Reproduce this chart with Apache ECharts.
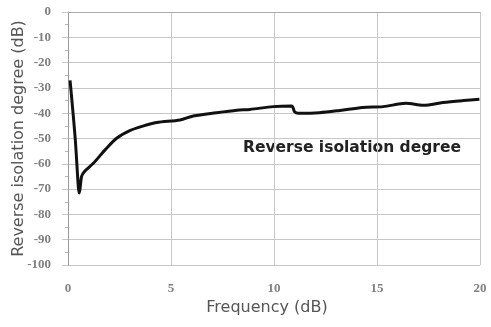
<!DOCTYPE html>
<html><head><meta charset="utf-8">
<script src="https://cdn.jsdelivr.net/npm/echarts@6/dist/echarts.min.js"></script>
<style>html,body{margin:0;padding:0;background:#fff}#c{width:491px;height:327px}</style>
</head><body><div id="c"></div>
<script>
const freq = [0.1, 0.35, 0.5, 0.55, 0.66, 0.8, 1.23, 1.8, 2.36, 3.0, 3.6, 4.3, 5.44, 6.08, 7.2, 8.2, 8.83, 9.97, 10.86, 11.0, 11.18, 12.2, 13.2, 14.3, 15.3, 16.4, 17.25, 18.2, 19.2, 19.97];
const isolation = [-27, -50, -69, -71.5, -65, -63, -59.8, -54.5, -49.9, -46.9, -45.2, -43.7, -42.7, -41.1, -39.8, -38.8, -38.5, -37.4, -37.2, -39.4, -40, -39.8, -38.9, -37.7, -37.4, -36.1, -36.9, -35.8, -35, -34.5];
const seriesLabel = 'Reverse isolation degree';
const xName = 'Frequency (dB)';
const yName = 'Reverse isolation degree (dB)';

const serif = "'Liberation Serif', 'Times New Roman', 'DejaVu Serif', serif";
const chart = echarts.init(document.getElementById('c'));
chart.setOption({
  animation: false,
  grid: {left: 68, right: 11, top: 12, bottom: 62, containLabel: false, outerBoundsMode: 'none'},
  xAxis: {
    type: 'value', min: 0, max: 20, interval: 5,
    name: xName, nameLocation: 'middle', nameGap: 35, nameMoveOverlap: false,
    nameTextStyle: {fontFamily: 'DejaVu Sans', fontSize: 16, color: '#555', letterSpacing: 1.8, padding: [0, 14, 0, 0]},
    axisLine: {lineStyle: {color: '#aaa'}},
    axisTick: {show: false},
    axisLabel: {fontFamily: serif, fontSize: 13, fontWeight: 'bold', color: '#808080', margin: 17},
    splitLine: {show: true, lineStyle: {color: '#c8c8c8', width: 1}}
  },
  yAxis: {
    type: 'value', min: -100, max: 0, interval: 10,
    name: yName, nameLocation: 'middle', nameGap: 41, nameMoveOverlap: false,
    nameTextStyle: {fontFamily: 'DejaVu Sans', fontSize: 16, color: '#555', letterSpacing: 1.0},
    axisLine: {show: true, lineStyle: {color: '#999'}},
    axisTick: {show: true, length: 6, lineStyle: {color: '#c8c8c8'}},
    minorTick: {show: true, splitNumber: 2, length: 3, lineStyle: {color: '#bbb'}},
    axisLabel: {fontFamily: serif, fontSize: 13, fontWeight: 'bold', color: '#808080', margin: 17},
    splitLine: {show: true, lineStyle: {color: '#c8c8c8', width: 1}}
  },
  series: [{
    type: 'line', data: freq.map((f, i) => [f, isolation[i]]),
    showSymbol: false, smooth: 0.3,
    lineStyle: {color: '#111', width: 3}
  }],
  graphic: [{
    type: 'text', left: 243, top: 140,
    style: {text: seriesLabel, fontFamily: 'DejaVu Sans', fontWeight: 'bold', fontSize: 15.5, fill: '#222'}
  }]
});
</script></body></html>
